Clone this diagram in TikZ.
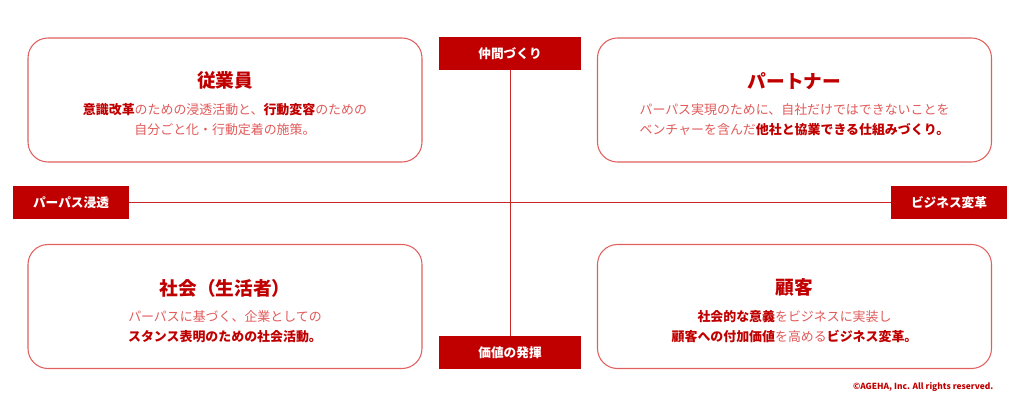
\documentclass[tikz,border=0pt]{standalone}
\usepackage{fontspec}
\setmainfont{Noto Sans CJK JP}
\usepackage{tikz}
\usetikzlibrary{positioning}
\definecolor{brandred}{HTML}{C00000}
\definecolor{panelred}{HTML}{E06060}
\definecolor{bodyred}{HTML}{E05A5A}

\newcommand{\hl}[1]{{\bfseries\color{brandred}#1}}

\begin{document}
\begin{tikzpicture}[x=0.75pt,y=-0.75pt,
  panel/.style={draw=panelred,line width=0.8pt,rounded corners=15pt,
    minimum width=295.5pt,minimum height=93pt},
  tag/.style={fill=brandred,text=white,inner sep=0pt,
    font=\bfseries\fontsize{9.5}{11}\selectfont,minimum height=24.75pt},
  ptitle/.style={text=brandred,font=\bfseries\fontsize{14}{16}\selectfont},
  pbody/.style={text=bodyred,align=center,font=\fontsize{9.7}{15}\selectfont},
  axis/.style={draw=brandred!85,line width=0.6pt}]
  \useasboundingbox (0,0) rectangle (1024,403);

  % Panels
  \node[panel] (emp) at (225,100) {};
  \node[panel] (part) at (794.5,100) {};
  \node[panel] (soc) at (225,306.5) {};
  \node[panel] (cust) at (794.5,306.5) {};

  % Panel texts
  \node[ptitle] (empT) at ([yshift=14.5]emp.center) {従業員};
  \node[pbody] (empB) at ([yshift=-14.5]emp.center)
    {\hl{意識改革}のための浸透活動と、\hl{行動変容}のための\\自分ごと化・行動定着の施策。};
  \node[ptitle] (partT) at ([yshift=14.5]part.center) {パートナー};
  \node[pbody] (partB) at ([yshift=-14.5]part.center)
    {パーパス実現のために、自社だけではできないことを\\ベンチャーを含んだ\hl{他社と協業できる仕組みづくり。}};
  \node[ptitle] (socT) at ([yshift=13.5]soc.center) {社会（生活者）};
  \node[pbody] (socB) at ([yshift=-15]soc.center)
    {パーパスに基づく、企業としての\\\hl{スタンス表明のための社会活動。}};
  \node[ptitle] (custT) at ([yshift=14]cust.center) {顧客};
  \node[pbody] (custB) at ([yshift=-15]cust.center)
    {\hl{社会的な意義}をビジネスに実装し\\\hl{顧客への付加価値}を高める\hl{ビジネス変革。}};

  % Axis tags
  \node[tag,minimum width=106.5pt] (top) at (510,53.5) {仲間づくり};
  \node[tag,minimum width=106.5pt] (bot) at (510,352.5) {価値の発揮};
  \node[tag,minimum width=87pt] (left) at (71,202.5) {パーパス浸透};
  \node[tag,minimum width=87pt] (right) at (949,202.5) {ビジネス変革};

  % Axes
  \draw[axis] (top.south) -- (bot.north);
  \draw[axis] (left.east) -- (right.west);

  % Copyright
  \node[anchor=east,text=brandred,font=\bfseries\fontsize{6.3}{7}\selectfont]
    (copy) at (998,387) {©AGEHA, Inc. All rights reserved.};
\end{tikzpicture}
\end{document}
